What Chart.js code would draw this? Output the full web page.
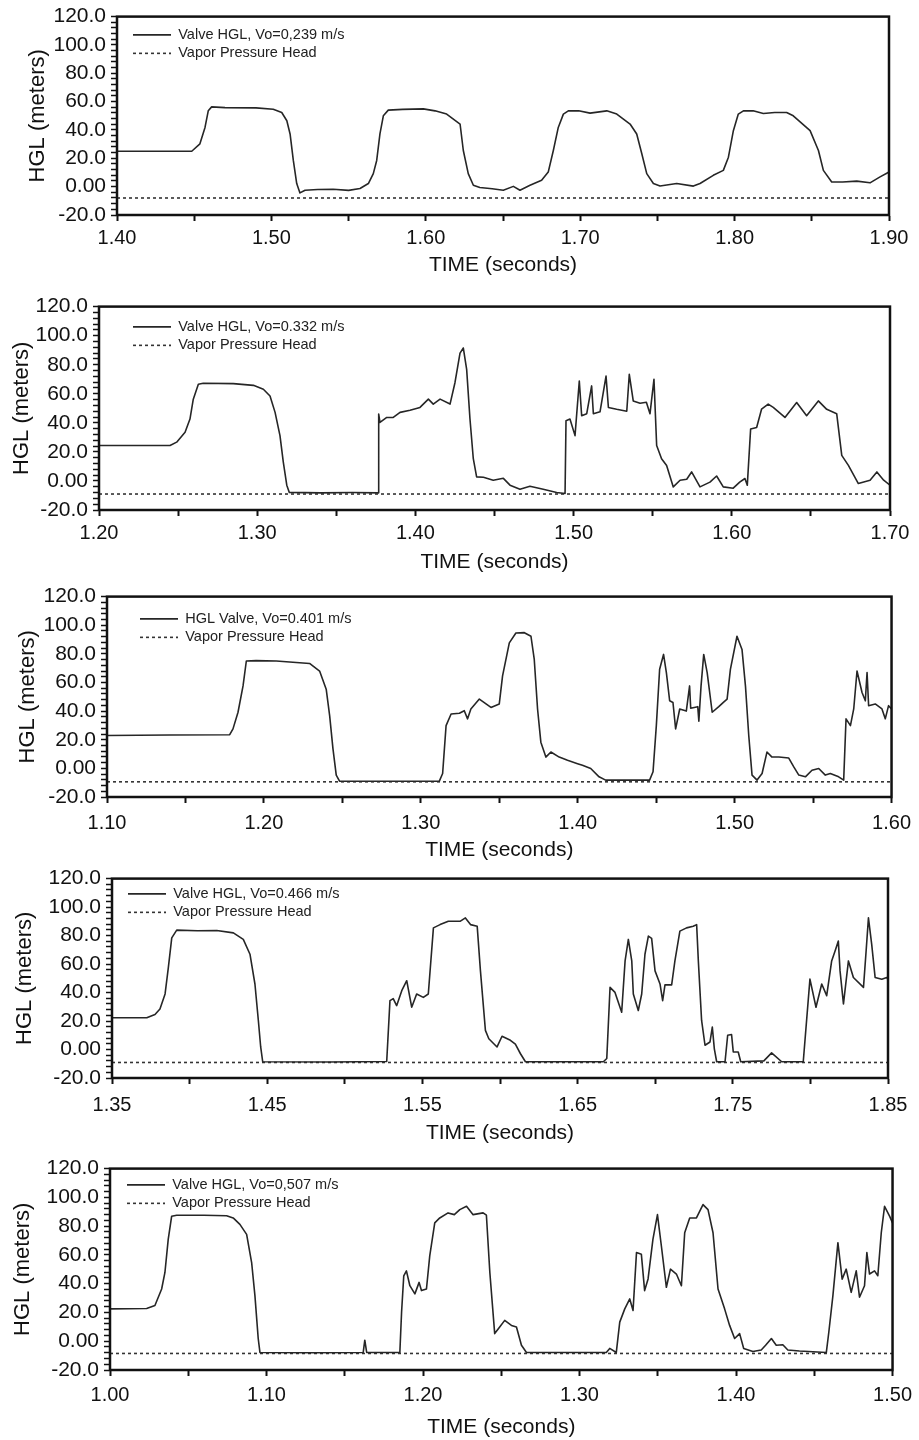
<!DOCTYPE html>
<html>
<head>
<meta charset="utf-8">
<script src="https://cdn.jsdelivr.net/npm/chart.js@4.4.1/dist/chart.umd.min.js"></script>
<style>
  html, body { margin: 0; padding: 0; background: #fff; }
  body { width: 919px; height: 1440px; position: relative; overflow: hidden; }
  canvas { position: absolute; left: 0; }
</style>
</head>
<body>
<script>
// ---- data ----
var p1Time = [1.400,1.430,1.4484,1.4537,1.4570,1.4591,1.4613,1.4700,1.4900,1.5012,1.5067,1.5100,1.5121,1.5142,1.5164,1.5185,1.5218,1.5300,1.5400,1.5500,1.5574,1.5628,1.5660,1.5682,1.5703,1.5725,1.5757,1.5850,1.5984,1.6060,1.6135,1.6222,1.6243,1.6275,1.6308,1.6350,1.6430,1.6502,1.6567,1.6610,1.6675,1.6750,1.6793,1.6826,1.6858,1.6891,1.6923,1.6990,1.7064,1.7172,1.7237,1.7323,1.7366,1.7399,1.7431,1.7474,1.7517,1.7625,1.7733,1.7776,1.7862,1.7927,1.7960,1.7992,1.8024,1.8057,1.8120,1.8186,1.8260,1.8337,1.8380,1.8489,1.8543,1.8575,1.8629,1.8700,1.8791,1.8877,1.8942,1.9000];
var p1Hgl = [25.0,25.0,25.0,30.2,41.8,53.5,56.3,55.8,55.6,54.6,52.3,46.5,37.2,18.5,2.2,-4.4,-2.5,-2.0,-1.8,-2.6,-1.3,2.2,9.2,18.5,37.2,50.0,54.0,54.5,54.9,53.5,51.2,44.2,25.5,9.2,1.0,-0.6,-1.5,-2.5,0.2,-2.5,1.0,4.5,10.3,25.5,41.8,51.2,53.5,53.5,51.9,53.5,51.2,44.2,37.2,23.2,9.2,2.2,0.5,2.2,0.4,2.2,8.0,11.5,20.8,39.5,51.2,53.5,53.5,51.6,52.3,52.3,50.0,39.5,25.5,11.5,3.3,3.3,3.9,2.7,6.9,10.3];

var p2Time = [1.200,1.2449,1.2491,1.2544,1.2575,1.2596,1.2628,1.2659,1.2849,1.2976,1.3039,1.3081,1.3113,1.3144,1.3165,1.3187,1.3203,1.3400,1.3600,1.3766,1.3768,1.3776,1.3819,1.3860,1.3903,1.3966,1.4029,1.4082,1.4113,1.4156,1.4219,1.4250,1.4282,1.4303,1.4324,1.4345,1.4366,1.4387,1.4430,1.4492,1.4556,1.4598,1.4661,1.4724,1.4808,1.4893,1.4946,1.4952,1.4977,1.5009,1.5036,1.5051,1.5083,1.5114,1.5125,1.5167,1.5205,1.5220,1.5272,1.5336,1.5352,1.5377,1.5420,1.5460,1.5483,1.5508,1.5525,1.5556,1.5588,1.5630,1.5673,1.5715,1.5746,1.5799,1.5862,1.5904,1.5946,1.6009,1.6050,1.6083,1.6098,1.6119,1.6157,1.6188,1.6230,1.6262,1.6336,1.6410,1.6473,1.6547,1.6600,1.6663,1.6695,1.6737,1.6800,1.6874,1.6917,1.6960,1.7000];
var p2Hgl = [24.4,24.4,26.7,33.5,42.6,56.3,66.5,67.2,67.0,65.8,63.1,58.5,47.2,31.2,13.0,-2.9,-7.9,-8.2,-8.0,-8.2,46.0,40.3,43.7,43.7,47.2,48.6,50.6,56.3,52.9,56.3,52.9,67.6,88.0,91.5,76.8,42.6,15.3,2.8,2.5,0.5,1.8,-2.9,-5.7,-3.7,-5.7,-7.9,-8.6,41.5,42.6,31.2,68.8,44.9,46.3,65.4,46.3,47.6,72.2,50.6,49.3,48.0,73.4,55.1,53.5,54.2,46.3,70.0,24.4,15.3,10.7,-4.1,0.5,1.2,6.2,-4.1,-0.8,3.4,-4.1,-5.0,-0.8,1.7,-2.9,35.8,36.8,49.4,52.9,50.6,43.7,54.0,44.9,55.1,49.3,46.3,17.6,10.7,-1.8,0.5,6.2,0.5,-2.9];

var p3Time = [1.100,1.1400,1.1782,1.1803,1.1835,1.1867,1.1888,1.1950,1.2079,1.2291,1.2355,1.2397,1.2419,1.2440,1.2461,1.2482,1.2800,1.3118,1.3139,1.3161,1.3193,1.3246,1.3277,1.3298,1.3319,1.3373,1.3447,1.3500,1.3521,1.3564,1.3606,1.3660,1.3702,1.3723,1.3744,1.3765,1.3797,1.3829,1.3882,1.3935,1.3999,1.4030,1.4083,1.4136,1.4178,1.4458,1.4480,1.4501,1.4522,1.4547,1.4565,1.4586,1.4607,1.4624,1.4650,1.4692,1.4713,1.4720,1.4765,1.4772,1.4786,1.4803,1.4825,1.4857,1.4899,1.4930,1.4952,1.4973,1.5015,1.5047,1.5069,1.5090,1.5111,1.5143,1.5175,1.5206,1.5238,1.5282,1.5345,1.5377,1.5409,1.5451,1.5493,1.5536,1.5578,1.5610,1.5663,1.5695,1.5710,1.5738,1.5759,1.5780,1.5812,1.5833,1.5844,1.5854,1.5896,1.5939,1.5960,1.5981,1.6000];
var p3Hgl = [23.0,23.3,23.5,27.6,39.2,57.6,75.0,75.3,75.0,73.3,68.0,55.3,36.8,13.8,-4.7,-8.9,-9.0,-8.9,-3.6,29.9,38.0,38.5,40.3,34.6,41.5,48.4,42.6,45.0,64.6,87.7,94.6,94.8,92.3,76.1,41.5,18.3,7.9,11.4,7.9,5.6,3.3,2.2,-0.1,-5.9,-8.2,-8.2,-2.4,29.9,69.2,79.6,66.9,47.2,46.0,27.6,41.5,40.0,57.6,42.0,43.1,33.0,57.6,79.6,66.9,39.2,43.1,46.3,48.4,69.2,92.3,83.1,57.6,23.0,-4.7,-8.2,-3.6,11.4,7.9,7.9,7.2,1.0,-4.7,-5.9,-1.3,-0.1,-4.7,-3.6,-5.9,-8.2,34.6,29.9,41.5,68.0,53.0,47.2,66.9,43.8,45.0,41.5,34.6,43.8,41.5];

var p4Time = [1.350,1.3724,1.3777,1.3809,1.3842,1.3863,1.3885,1.3917,1.4050,1.4175,1.4282,1.4346,1.4389,1.4421,1.4443,1.4458,1.4471,1.4900,1.5270,1.5291,1.5312,1.5334,1.5367,1.5399,1.5431,1.5463,1.5506,1.5538,1.5571,1.5614,1.5667,1.5745,1.5777,1.5810,1.5853,1.5874,1.5906,1.5928,1.5981,1.6013,1.6067,1.6099,1.6131,1.6164,1.6666,1.6688,1.6709,1.6741,1.6784,1.6806,1.6827,1.6849,1.6859,1.6891,1.6913,1.6934,1.6956,1.6977,1.6999,1.7031,1.7048,1.7063,1.7106,1.7127,1.7159,1.7202,1.7245,1.7267,1.7278,1.7299,1.7321,1.7353,1.7368,1.7381,1.7396,1.7450,1.7467,1.7492,1.7503,1.7535,1.7551,1.7700,1.7750,1.7815,1.7954,1.7997,1.8036,1.8073,1.8105,1.8137,1.8159,1.8180,1.8191,1.8213,1.8245,1.8277,1.8342,1.8359,1.8374,1.8395,1.8417,1.8460,1.8492,1.8500];
var p4Hgl = [22.3,22.3,24.6,28.5,39.0,57.5,78.4,83.8,83.4,83.6,81.9,77.3,66.9,46.0,20.4,1.8,-8.6,-8.8,-8.4,34.3,35.7,30.8,41.3,48.3,29.7,39.0,36.6,39.0,85.4,87.7,90.1,90.1,92.4,87.7,86.6,55.2,13.4,7.6,1.8,9.3,6.5,3.7,-2.8,-8.6,-8.6,-6.3,43.6,40.1,26.2,62.2,77.3,62.2,39.0,27.4,39.0,66.9,79.6,78.0,55.2,46.0,34.3,45.4,45.4,62.2,83.1,85.4,86.5,87.7,62.2,20.4,3.0,5.3,15.7,0.5,-8.6,-8.6,10.0,10.5,-1.7,-1.7,-8.6,-8.0,-2.4,-8.6,-8.6,49.4,29.7,46.0,37.8,62.2,69.2,76.1,55.2,32.0,62.2,50.6,43.6,69.2,92.4,73.8,50.6,49.4,50.6,49.0];

var p5Time = [1.000,1.0234,1.0287,1.0330,1.0351,1.0372,1.0394,1.0426,1.0600,1.0745,1.0787,1.0830,1.0873,1.0905,1.0926,1.0947,1.0958,1.1300,1.1618,1.1628,1.1640,1.1852,1.1863,1.1877,1.1894,1.1916,1.1948,1.1975,1.1990,1.2022,1.2043,1.2075,1.2107,1.2160,1.2200,1.2235,1.2278,1.2320,1.2384,1.2405,1.2427,1.2458,1.2490,1.2522,1.2565,1.2597,1.2629,1.2661,1.3171,1.3193,1.3235,1.3257,1.3289,1.3321,1.3342,1.3364,1.3395,1.3416,1.3438,1.3469,1.3498,1.3523,1.3555,1.3581,1.3619,1.3651,1.3672,1.3704,1.3747,1.3789,1.3821,1.3853,1.3885,1.3927,1.3959,1.3991,1.4023,1.4049,1.4108,1.4161,1.4189,1.4226,1.4257,1.4299,1.4331,1.4405,1.4577,1.4593,1.4619,1.4651,1.4678,1.4704,1.4736,1.4768,1.4789,1.4821,1.4836,1.4853,1.4885,1.4906,1.4928,1.4949,1.4981,1.5000];
var p5Hgl = [22.5,22.8,24.8,36.3,47.8,70.8,86.9,87.6,87.6,87.2,85.7,81.2,74.3,54.7,31.7,1.9,-7.8,-8.0,-7.8,0.7,-7.8,-7.8,20.2,45.5,48.9,38.6,32.9,40.9,35.2,36.3,59.3,82.3,85.7,89.2,88.0,91.5,93.8,88.0,89.2,87.6,47.8,5.3,9.9,14.5,11.0,9.9,-2.8,-7.8,-7.8,-5.0,-7.8,13.3,22.5,29.4,21.4,61.6,60.5,35.2,43.3,70.8,88.0,66.2,37.5,50.1,46.7,38.6,75.4,85.7,85.7,95.0,91.5,75.4,36.3,22.5,11.0,1.9,5.3,-5.0,-7.2,-6.1,-2.8,1.9,-2.8,-2.4,-6.1,-6.8,-7.8,6.4,31.7,68.5,43.2,50.1,34.0,48.9,30.6,38.6,61.6,46.7,48.9,45.5,75.4,93.8,87.0,82.3];

var panelTimes = [p1Time, p2Time, p3Time, p4Time, p5Time];
var panelHgl = [p1Hgl, p2Hgl, p3Hgl, p4Hgl, p5Hgl];
var xMin = [1.40, 1.20, 1.10, 1.35, 1.00];
var xMax = [1.90, 1.70, 1.60, 1.85, 1.50];
var vaporHead = [-8.0, -9.0, -9.4, -9.1, -8.5];
var valveLabels = ["Valve HGL, Vo=0,239 m/s", "Valve HGL, Vo=0.332 m/s", "HGL Valve, Vo=0.401 m/s", "Valve HGL, Vo=0.466 m/s", "Valve HGL, Vo=0,507 m/s"];
var vaporLabel = "Vapor Pressure Head";
var yMin = -20, yMax = 120;

// ---- where each panel sits on the page (px) ----
var frames = [
  {left: 117, right: 889, top: 15,   bottom: 215,  yTitleX: 38, xTickY: 238,  xTitleY: 265,  legX: 12, legY: 7},
  {left: 99,  right: 890, top: 305,  bottom: 510,  yTitleX: 22, xTickY: 533,  xTitleY: 562,  legX: 30, legY: 9},
  {left: 107, right: 893, top: 595,  bottom: 797,  yTitleX: 28, xTickY: 823,  xTitleY: 850,  legX: 29, legY: 11},
  {left: 112, right: 888, top: 877,  bottom: 1078, yTitleX: 25, xTickY: 1105, xTitleY: 1133, legX: 12, legY: 4},
  {left: 110, right: 893, top: 1167, bottom: 1370, yTitleX: 23, xTickY: 1395, xTitleY: 1427, legX: 13, legY: 5}
];

var FONT = "'Liberation Sans', Arial, sans-serif";
var INK = '#111';

// full box round the plot
var boxPlugin = {
  id: 'boxFrame',
  afterDatasetsDraw: function(chart) {
    var a = chart.chartArea, ctx = chart.ctx;
    ctx.save();
    ctx.strokeStyle = INK;
    ctx.lineWidth = 2.5;
    ctx.strokeRect(a.left, a.top, a.right - a.left, a.bottom - a.top);
    ctx.restore();
  }
};

// move the in-plot legend to its spot
var legendShift = {
  id: 'legendShift',
  afterLayout: function(chart, args, opts) {
    var lg = chart.legend, a = chart.chartArea;
    if (!lg) return;
    lg.left = a.left + opts.x;
    lg.top = a.top + opts.y;
    lg.right = lg.left + lg.width;
    lg.bottom = lg.top + lg.height;
  }
};

// legend samples take the dataset's line style (dash, width, colour)
function lineLegendLabels(chart) {
  var items = Chart.defaults.plugins.legend.labels.generateLabels(chart);
  items.forEach(function(it) {
    var ds = chart.data.datasets[it.datasetIndex];
    it.lineDash = ds.borderDash || [];
    it.lineWidth = ds.borderWidth;
    it.strokeStyle = ds.borderColor;
  });
  return items;
}

function makePanel(i) {
  var f = frames[i];
  var canvasTop = f.top - 16;
  var titleBottom = f.xTitleY + 13.2;
  var canvasH = Math.ceil(titleBottom - canvasTop) + 4;

  var canvas = document.createElement('canvas');
  canvas.width = 919;
  canvas.height = canvasH;
  canvas.style.top = canvasTop + 'px';
  document.body.appendChild(canvas);

  var points = [];
  for (var k = 0; k < panelTimes[i].length; k++) {
    points.push({x: panelTimes[i][k], y: panelHgl[i][k]});
  }

  new Chart(canvas, {
    type: 'line',
    data: {
      datasets: [{
        label: valveLabels[i],
        data: points,
        borderColor: '#262626',
        borderWidth: 1.6,
        pointRadius: 0,
        tension: 0,
        borderJoinStyle: 'round'
      }, {
        label: vaporLabel,
        data: [{x: xMin[i], y: vaporHead[i]}, {x: xMax[i], y: vaporHead[i]}],
        borderColor: '#333',
        borderWidth: 1.6,
        borderDash: [3, 3],
        pointRadius: 0
      }]
    },
    options: {
      responsive: false,
      animation: false,
      events: [],
      layout: {
        padding: {top: 16, left: 0, right: 919 - f.right, bottom: canvasH - (titleBottom - canvasTop)}
      },
      plugins: {
        tooltip: {enabled: false},
        legend: {
          position: 'chartArea',
          align: 'start',
          labels: {
            usePointStyle: true,
            pointStyle: 'line',
            pointStyleWidth: 38,
            padding: 4,
            color: '#222',
            font: {family: FONT, size: 14.5},
            generateLabels: lineLegendLabels
          }
        },
        legendShift: {x: f.legX, y: f.legY}
      },
      scales: {
        x: {
          type: 'linear',
          min: xMin[i],
          max: xMax[i],
          afterFit: function(s) { s.height = titleBottom - f.bottom; },
          ticks: {
            stepSize: 0.05,
            autoSkip: false,
            maxRotation: 0,
            padding: f.xTickY - f.bottom - 6 - 12,
            color: INK,
            font: {family: FONT, size: 20},
            callback: function(v) {
              var n = Math.round((v - xMin[i]) * 100);
              return n % 10 === 0 ? v.toFixed(2) : '';
            }
          },
          grid: {drawOnChartArea: false, tickLength: 6, tickWidth: 2, tickColor: INK},
          border: {color: INK, width: 2},
          title: {display: true, text: 'TIME (seconds)', color: INK, font: {family: FONT, size: 21}, padding: 0}
        },
        y: {
          min: yMin,
          max: yMax,
          afterFit: function(s) { s.width = f.left; },
          ticks: {
            stepSize: 4,
            autoSkip: false,
            padding: 5,
            color: INK,
            font: {family: FONT, size: 21},
            callback: function(v) {
              var n = Math.round(v);
              if (n % 20 !== 0) return '';
              return n === 0 ? '0.00' : n.toFixed(1);
            }
          },
          grid: {drawOnChartArea: false, tickLength: 6, tickWidth: 1.5, tickColor: INK},
          border: {color: INK, width: 2},
          title: {display: true, text: 'HGL (meters)', color: INK, font: {family: FONT, size: 22}, padding: {top: f.yTitleX - 13.2, bottom: 0}}
        }
      }
    },
    plugins: [boxPlugin, legendShift]
  });
}

for (var i = 0; i < frames.length; i++) {
  makePanel(i);
}
</script>
</body>
</html>
